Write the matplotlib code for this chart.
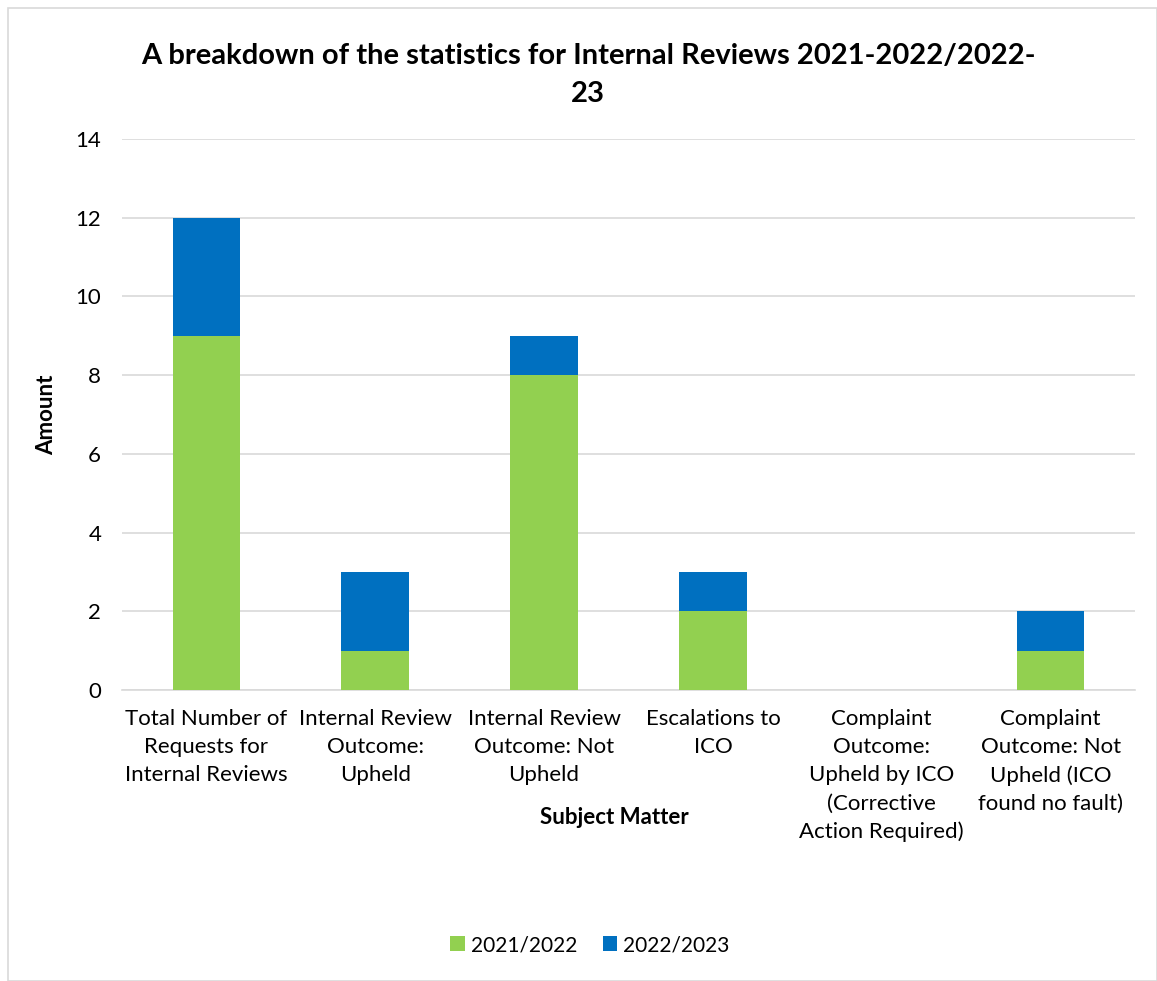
import matplotlib.pyplot as plt
import numpy as np
from matplotlib.patches import Rectangle

plt.rcParams['font.family'] = ['Lato', 'DejaVu Sans']

categories = ['Total Number of\nRequests for\nInternal Reviews',
              'Internal Review\nOutcome:\nUpheld',
              'Internal Review\nOutcome: Not\nUpheld',
              'Escalations to\nICO',
              'Complaint\nOutcome:\nUpheld by ICO\n(Corrective\nAction Required)',
              'Complaint\nOutcome: Not\nUpheld (ICO\nfound no fault)']
y2122 = [9, 1, 8, 2, 0, 1]
y2223 = [3, 2, 1, 1, 0, 1]

fig = plt.figure(figsize=(11.57, 9.81), dpi=100)
ax = fig.add_axes([122/1157, 1 - 690/981, (1135-122)/1157, (690-139)/981])

x = np.arange(len(categories))
ax.bar(x, y2122, width=0.4, color='#92D050', label='2021/2022', zorder=3)
ax.bar(x, y2223, width=0.4, bottom=y2122, color='#0070C0', label='2022/2023', zorder=3)

ax.set_xlim(-0.5, len(categories) - 0.5)
ax.set_ylim(0, 14)
ax.set_yticks(range(0, 15, 2))
ax.set_xticks(x)
ax.set_xticklabels(categories, fontsize=16, linespacing=1.5)
ax.tick_params(axis='y', labelsize=16, length=0, pad=15)
ax.tick_params(axis='x', length=0, pad=14)
ax.grid(axis='y', color='#D9D9D9', linewidth=1.2, zorder=0)
for s in ['top', 'right', 'left']:
    ax.spines[s].set_visible(False)
ax.spines['bottom'].set_color('#D9D9D9')
ax.spines['bottom'].set_linewidth(1.2)

ax.set_ylabel('Amount', fontsize=16, fontweight='bold')
ax.yaxis.set_label_coords(-0.064, 0.5)
fig.text(614/1157, 1 - 818/981, 'Subject Matter', fontsize=16, fontweight='bold',
         ha='center', va='center')
fig.text(588/1157, 1 - 75/981, 'A breakdown of the statistics for Internal Reviews 2021-2022/2022-\n23',
         fontsize=21, fontweight='bold', ha='center', va='center', linespacing=1.6)

fig.legend(loc='center', bbox_to_anchor=(590/1157, 1 - 945/981), ncol=2, frameon=False,
           fontsize=15, handlelength=0.7, handleheight=0.7, handletextpad=0.3, columnspacing=1.2)

fig.patches.append(Rectangle((8/1157, 0), 1 - 8/1157, 1 - 8/981, transform=fig.transFigure,
                             fill=False, edgecolor='#D9D9D9', linewidth=1.2))

fig.savefig('out.png', dpi=100)
